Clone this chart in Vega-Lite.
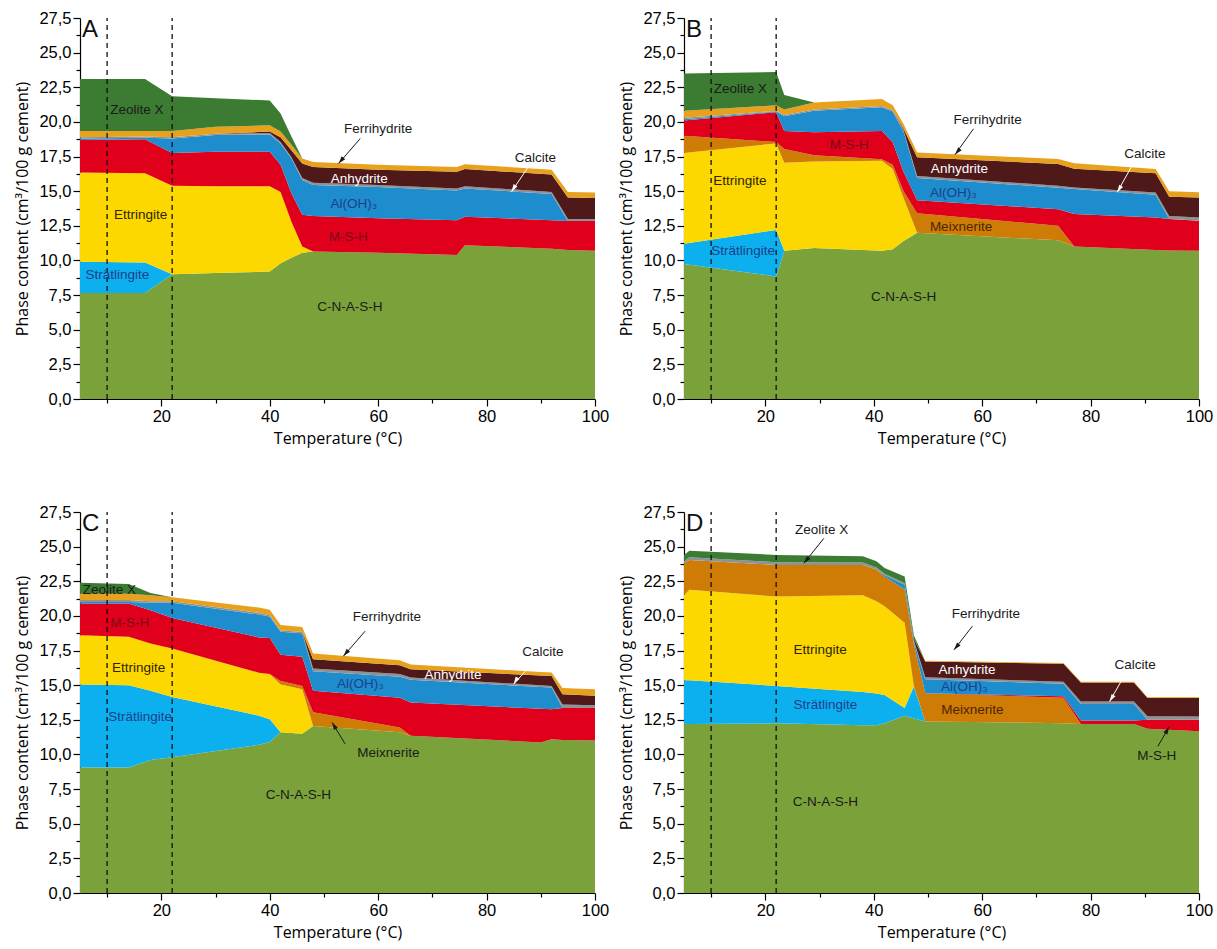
{
"$schema": "https://vega.github.io/schema/vega-lite/v6.json",
"background": "white",
"padding": {"left": 14, "top": 10, "right": 2, "bottom": 2},
"spacing": 57,
"config": {
  "view": {"stroke": null},
  "axis": {"grid": false, "domainColor": "#000", "tickColor": "#000", "labelColor": "#000", "titleColor": "#000", "labelFont": "Liberation Sans", "labelFontSize": 16.5, "titleFont": "Open Sans", "titleFontSize": 16, "titleFontWeight": "normal", "labelFlush": false, "labelOverlap": false, "labelBound": false, "domainWidth": 1.2, "tickWidth": 1.2},
  "axisY": {"titlePadding": 8},
  "axisX": {"titlePadding": 6},
  "text": {"font": "Liberation Sans", "fontSize": 13.5}
},
"datasets": {
  "phaseinfo": [
    {"phase": "CNASH", "rank": 0}, {"phase": "Strat", "rank": 1}, {"phase": "Ettr", "rank": 2}, {"phase": "Meix", "rank": 3}, {"phase": "MSH", "rank": 4},
    {"phase": "AlOH3", "rank": 5}, {"phase": "Calcite", "rank": 6}, {"phase": "Anhydrite", "rank": 7}, {"phase": "Ferri", "rank": 8}, {"phase": "Zeolite", "rank": 9}
  ],
  "phases": [
    {"panel":"A","t":5,"CNASH":7.65,"Strat":2.25,"Ettr":6.45,"Meix":0,"MSH":2.35,"AlOH3":0.1,"Calcite":0.1,"Anhydrite":0,"Ferri":0.45,"Zeolite":3.75},
    {"panel":"A","t":17,"CNASH":7.65,"Strat":2.2,"Ettr":6.45,"Meix":0,"MSH":2.45,"AlOH3":0.1,"Calcite":0.1,"Anhydrite":0,"Ferri":0.4,"Zeolite":3.75},
    {"panel":"A","t":22,"CNASH":9.0,"Strat":0,"Ettr":6.4,"Meix":0,"MSH":2.35,"AlOH3":1.05,"Calcite":0.1,"Anhydrite":0,"Ferri":0.45,"Zeolite":2.5},
    {"panel":"A","t":30,"CNASH":9.1,"Strat":0,"Ettr":6.25,"Meix":0,"MSH":2.5,"AlOH3":1.2,"Calcite":0.1,"Anhydrite":0,"Ferri":0.5,"Zeolite":2.05},
    {"panel":"A","t":40,"CNASH":9.2,"Strat":0,"Ettr":6.15,"Meix":0,"MSH":2.5,"AlOH3":1.25,"Calcite":0.1,"Anhydrite":0.1,"Ferri":0.45,"Zeolite":1.8},
    {"panel":"A","t":42,"CNASH":9.8,"Strat":0,"Ettr":5.15,"Meix":0,"MSH":1.95,"AlOH3":1.55,"Calcite":0.1,"Anhydrite":0.35,"Ferri":0.4,"Zeolite":1.3},
    {"panel":"A","t":44,"CNASH":10.2,"Strat":0,"Ettr":2.6,"Meix":0,"MSH":2.05,"AlOH3":2.5,"Calcite":0.1,"Anhydrite":0.5,"Ferri":0.4,"Zeolite":0.6},
    {"panel":"A","t":46,"CNASH":10.55,"Strat":0,"Ettr":0.45,"Meix":0,"MSH":2.3,"AlOH3":2.5,"Calcite":0.15,"Anhydrite":1.05,"Ferri":0.35,"Zeolite":0},
    {"panel":"A","t":48,"CNASH":10.65,"Strat":0,"Ettr":0,"Meix":0,"MSH":2.55,"AlOH3":2.25,"Calcite":0.15,"Anhydrite":1.15,"Ferri":0.35,"Zeolite":0},
    {"panel":"A","t":60,"CNASH":10.55,"Strat":0,"Ettr":0,"Meix":0,"MSH":2.5,"AlOH3":2.25,"Calcite":0.15,"Anhydrite":1.1,"Ferri":0.35,"Zeolite":0},
    {"panel":"A","t":74.5,"CNASH":10.4,"Strat":0,"Ettr":0,"Meix":0,"MSH":2.5,"AlOH3":2.15,"Calcite":0.15,"Anhydrite":1.2,"Ferri":0.35,"Zeolite":0},
    {"panel":"A","t":76,"CNASH":11.1,"Strat":0,"Ettr":0,"Meix":0,"MSH":2.05,"AlOH3":2.05,"Calcite":0.15,"Anhydrite":1.25,"Ferri":0.35,"Zeolite":0},
    {"panel":"A","t":92,"CNASH":10.85,"Strat":0,"Ettr":0,"Meix":0,"MSH":2.05,"AlOH3":1.9,"Calcite":0.15,"Anhydrite":1.25,"Ferri":0.35,"Zeolite":0},
    {"panel":"A","t":95,"CNASH":10.75,"Strat":0,"Ettr":0,"Meix":0,"MSH":2.1,"AlOH3":0,"Calcite":0.15,"Anhydrite":1.55,"Ferri":0.4,"Zeolite":0},
    {"panel":"A","t":100,"CNASH":10.7,"Strat":0,"Ettr":0,"Meix":0,"MSH":2.15,"AlOH3":0,"Calcite":0.15,"Anhydrite":1.5,"Ferri":0.4,"Zeolite":0},

    {"panel":"B","t":5,"CNASH":9.75,"Strat":1.45,"Ettr":6.55,"Meix":1.25,"MSH":1.1,"AlOH3":0.1,"Calcite":0.1,"Anhydrite":0,"Ferri":0.5,"Zeolite":2.7},
    {"panel":"B","t":22,"CNASH":8.85,"Strat":3.35,"Ettr":6.25,"Meix":0.1,"MSH":2.15,"AlOH3":0.05,"Calcite":0.05,"Anhydrite":0,"Ferri":0.4,"Zeolite":2.4},
    {"panel":"B","t":23.5,"CNASH":10.7,"Strat":0,"Ettr":6.35,"Meix":1.0,"MSH":1.3,"AlOH3":1.05,"Calcite":0.1,"Anhydrite":0,"Ferri":0.4,"Zeolite":1.05},
    {"panel":"B","t":29,"CNASH":10.9,"Strat":0,"Ettr":6.25,"Meix":0.45,"MSH":1.65,"AlOH3":1.55,"Calcite":0.1,"Anhydrite":0,"Ferri":0.5,"Zeolite":0},
    {"panel":"B","t":41.5,"CNASH":10.7,"Strat":0,"Ettr":6.5,"Meix":0.1,"MSH":2.05,"AlOH3":1.7,"Calcite":0.1,"Anhydrite":0,"Ferri":0.5,"Zeolite":0},
    {"panel":"B","t":43.5,"CNASH":10.8,"Strat":0,"Ettr":5.8,"Meix":0.3,"MSH":1.63,"AlOH3":2.22,"Calcite":0.1,"Anhydrite":0,"Ferri":0.35,"Zeolite":0},
    {"panel":"B","t":45.5,"CNASH":11.4,"Strat":0,"Ettr":3.1,"Meix":0.5,"MSH":1.4,"AlOH3":2.9,"Calcite":0.1,"Anhydrite":0.1,"Ferri":0.35,"Zeolite":0},
    {"panel":"B","t":48,"CNASH":12.0,"Strat":0,"Ettr":0,"Meix":1.4,"MSH":0.95,"AlOH3":1.6,"Calcite":0.15,"Anhydrite":1.35,"Ferri":0.35,"Zeolite":0},
    {"panel":"B","t":74,"CNASH":11.45,"Strat":0,"Ettr":0,"Meix":1.05,"MSH":1.2,"AlOH3":1.55,"Calcite":0.15,"Anhydrite":1.57,"Ferri":0.35,"Zeolite":0},
    {"panel":"B","t":77,"CNASH":11.0,"Strat":0,"Ettr":0,"Meix":0,"MSH":2.35,"AlOH3":1.8,"Calcite":0.12,"Anhydrite":1.35,"Ferri":0.4,"Zeolite":0},
    {"panel":"B","t":92,"CNASH":10.75,"Strat":0,"Ettr":0,"Meix":0,"MSH":2.35,"AlOH3":1.65,"Calcite":0.15,"Anhydrite":1.4,"Ferri":0.3,"Zeolite":0},
    {"panel":"B","t":94.5,"CNASH":10.72,"Strat":0,"Ettr":0,"Meix":0,"MSH":2.28,"AlOH3":0,"Calcite":0.2,"Anhydrite":1.4,"Ferri":0.4,"Zeolite":0},
    {"panel":"B","t":100,"CNASH":10.7,"Strat":0,"Ettr":0,"Meix":0,"MSH":2.17,"AlOH3":0,"Calcite":0.23,"Anhydrite":1.45,"Ferri":0.37,"Zeolite":0},

    {"panel":"C","t":5,"CNASH":9.05,"Strat":6.0,"Ettr":3.55,"Meix":0,"MSH":2.3,"AlOH3":0.1,"Calcite":0.15,"Anhydrite":0,"Ferri":0.45,"Zeolite":0.8},
    {"panel":"C","t":14,"CNASH":9.05,"Strat":5.95,"Ettr":3.5,"Meix":0,"MSH":2.4,"AlOH3":0.1,"Calcite":0.15,"Anhydrite":0,"Ferri":0.45,"Zeolite":0.7},
    {"panel":"C","t":18,"CNASH":9.6,"Strat":5.0,"Ettr":3.4,"Meix":0,"MSH":2.4,"AlOH3":0.55,"Calcite":0.1,"Anhydrite":0,"Ferri":0.45,"Zeolite":0.15},
    {"panel":"C","t":22,"CNASH":9.8,"Strat":4.35,"Ettr":3.5,"Meix":0,"MSH":2.2,"AlOH3":1.1,"Calcite":0.1,"Anhydrite":0,"Ferri":0.3,"Zeolite":0},
    {"panel":"C","t":38,"CNASH":10.7,"Strat":2.1,"Ettr":3.1,"Meix":0,"MSH":2.55,"AlOH3":1.65,"Calcite":0.12,"Anhydrite":0,"Ferri":0.38,"Zeolite":0},
    {"panel":"C","t":40,"CNASH":10.9,"Strat":1.65,"Ettr":3.25,"Meix":0,"MSH":2.6,"AlOH3":1.55,"Calcite":0.1,"Anhydrite":0,"Ferri":0.4,"Zeolite":0},
    {"panel":"C","t":42,"CNASH":11.6,"Strat":0,"Ettr":3.45,"Meix":0.25,"MSH":1.9,"AlOH3":1.65,"Calcite":0.1,"Anhydrite":0,"Ferri":0.4,"Zeolite":0},
    {"panel":"C","t":46,"CNASH":11.5,"Strat":0,"Ettr":3.2,"Meix":0.25,"MSH":2.1,"AlOH3":1.7,"Calcite":0.1,"Anhydrite":0,"Ferri":0.35,"Zeolite":0},
    {"panel":"C","t":48,"CNASH":12.05,"Strat":0,"Ettr":0,"Meix":1.0,"MSH":1.55,"AlOH3":1.4,"Calcite":0.2,"Anhydrite":0.68,"Ferri":0.4,"Zeolite":0},
    {"panel":"C","t":64,"CNASH":11.6,"Strat":0,"Ettr":0,"Meix":0.35,"MSH":2.15,"AlOH3":1.5,"Calcite":0.2,"Anhydrite":0.64,"Ferri":0.36,"Zeolite":0},
    {"panel":"C","t":66,"CNASH":11.35,"Strat":0,"Ettr":0,"Meix":0,"MSH":2.4,"AlOH3":1.65,"Calcite":0.15,"Anhydrite":0.6,"Ferri":0.35,"Zeolite":0},
    {"panel":"C","t":90,"CNASH":10.87,"Strat":0,"Ettr":0,"Meix":0,"MSH":2.43,"AlOH3":1.57,"Calcite":0.13,"Anhydrite":0.7,"Ferri":0.25,"Zeolite":0},
    {"panel":"C","t":92,"CNASH":11.1,"Strat":0,"Ettr":0,"Meix":0,"MSH":2.17,"AlOH3":1.56,"Calcite":0.12,"Anhydrite":0.72,"Ferri":0.24,"Zeolite":0},
    {"panel":"C","t":94,"CNASH":11.05,"Strat":0,"Ettr":0,"Meix":0,"MSH":2.3,"AlOH3":0,"Calcite":0.25,"Anhydrite":0.75,"Ferri":0.44,"Zeolite":0},
    {"panel":"C","t":100,"CNASH":11.0,"Strat":0,"Ettr":0,"Meix":0,"MSH":2.35,"AlOH3":0,"Calcite":0.21,"Anhydrite":0.67,"Ferri":0.48,"Zeolite":0},

    {"panel":"D","t":5,"CNASH":12.2,"Strat":3.15,"Ettr":6.15,"Meix":2.3,"MSH":0,"AlOH3":0,"Calcite":0.15,"Anhydrite":0,"Ferri":0,"Zeolite":0.45},
    {"panel":"D","t":6,"CNASH":12.2,"Strat":3.15,"Ettr":6.53,"Meix":2.16,"MSH":0,"AlOH3":0,"Calcite":0.2,"Anhydrite":0,"Ferri":0,"Zeolite":0.46},
    {"panel":"D","t":22,"CNASH":12.25,"Strat":2.7,"Ettr":6.45,"Meix":2.28,"MSH":0,"AlOH3":0,"Calcite":0.2,"Anhydrite":0,"Ferri":0,"Zeolite":0.52},
    {"panel":"D","t":38,"CNASH":12.1,"Strat":2.4,"Ettr":7.0,"Meix":2.18,"MSH":0,"AlOH3":0,"Calcite":0.17,"Anhydrite":0,"Ferri":0,"Zeolite":0.45},
    {"panel":"D","t":40.5,"CNASH":12.1,"Strat":2.3,"Ettr":6.65,"Meix":2.3,"MSH":0,"AlOH3":0,"Calcite":0.15,"Anhydrite":0,"Ferri":0,"Zeolite":0.45},
    {"panel":"D","t":42,"CNASH":12.25,"Strat":2.05,"Ettr":6.4,"Meix":2.15,"MSH":0,"AlOH3":0.1,"Calcite":0.1,"Anhydrite":0,"Ferri":0,"Zeolite":0.4},
    {"panel":"D","t":45.7,"CNASH":12.8,"Strat":0.55,"Ettr":6.15,"Meix":2.4,"MSH":0,"AlOH3":0.35,"Calcite":0.1,"Anhydrite":0,"Ferri":0,"Zeolite":0.5},
    {"panel":"D","t":47.4,"CNASH":12.6,"Strat":2.3,"Ettr":0.05,"Meix":3.05,"MSH":0,"AlOH3":0.15,"Calcite":0.1,"Anhydrite":0.1,"Ferri":0,"Zeolite":0.25},
    {"panel":"D","t":49.5,"CNASH":12.38,"Strat":0,"Ettr":0,"Meix":2.04,"MSH":0,"AlOH3":1.01,"Calcite":0.15,"Anhydrite":1.13,"Ferri":0.05,"Zeolite":0},
    {"panel":"D","t":75,"CNASH":12.26,"Strat":0,"Ettr":0,"Meix":1.84,"MSH":0.1,"AlOH3":0.9,"Calcite":0.15,"Anhydrite":1.3,"Ferri":0.05,"Zeolite":0},
    {"panel":"D","t":78.2,"CNASH":12.2,"Strat":0,"Ettr":0,"Meix":0,"MSH":0.25,"AlOH3":1.2,"Calcite":0.17,"Anhydrite":1.37,"Ferri":0.05,"Zeolite":0},
    {"panel":"D","t":88,"CNASH":12.2,"Strat":0,"Ettr":0,"Meix":0,"MSH":0.25,"AlOH3":1.2,"Calcite":0.17,"Anhydrite":1.37,"Ferri":0.05,"Zeolite":0},
    {"panel":"D","t":90.5,"CNASH":11.85,"Strat":0,"Ettr":0,"Meix":0,"MSH":0.65,"AlOH3":0,"Calcite":0.25,"Anhydrite":1.32,"Ferri":0.05,"Zeolite":0},
    {"panel":"D","t":100,"CNASH":11.67,"Strat":0,"Ettr":0,"Meix":0,"MSH":0.83,"AlOH3":0,"Calcite":0.24,"Anhydrite":1.33,"Ferri":0.05,"Zeolite":0}
  ],
  "labels": [
    {"panel":"A","label":"Zeolite X","phase":"Zeolite","t":15.5,"v":20.84,"callout":false},
    {"panel":"A","label":"Ettringite","phase":"Ettr","t":16.2,"v":13.26,"callout":false},
    {"panel":"A","label":"Strätlingite","phase":"Strat","t":11.9,"v":8.92,"callout":false},
    {"panel":"A","label":"Ferrihydrite","phase":"Ferri","t":60,"v":19.5,"callout":true},
    {"panel":"A","label":"Calcite","phase":"Calcite","t":89,"v":17.4,"callout":true},
    {"panel":"A","label":"Anhydrite","phase":"Anhydrite","t":56.5,"v":15.85,"callout":false},
    {"panel":"A","label":"Al(OH)₃","phase":"AlOH3","t":55.5,"v":14.04,"callout":false},
    {"panel":"A","label":"M-S-H","phase":"MSH","t":54.5,"v":11.7,"callout":false},
    {"panel":"A","label":"C-N-A-S-H","phase":"CNASH","t":54.8,"v":6.65,"callout":false},
    {"panel":"B","label":"Zeolite X","phase":"Zeolite","t":15.4,"v":22.37,"callout":false},
    {"panel":"B","label":"Ettringite","phase":"Ettr","t":15.3,"v":15.7,"callout":false},
    {"panel":"B","label":"Strätlingite","phase":"Strat","t":15.9,"v":10.7,"callout":false},
    {"panel":"B","label":"M-S-H","phase":"MSH","t":35.5,"v":18.3,"callout":false},
    {"panel":"B","label":"C-N-A-S-H","phase":"CNASH","t":45.5,"v":7.34,"callout":false},
    {"panel":"B","label":"Ferrihydrite","phase":"Ferri","t":61,"v":20.14,"callout":true},
    {"panel":"B","label":"Calcite","phase":"Calcite","t":90,"v":17.68,"callout":true},
    {"panel":"B","label":"Anhydrite","phase":"Anhydrite","t":55.8,"v":16.6,"callout":false},
    {"panel":"B","label":"Al(OH)₃","phase":"AlOH3","t":54.7,"v":14.9,"callout":false},
    {"panel":"B","label":"Meixnerite","phase":"Meix","t":56.1,"v":12.44,"callout":false},
    {"panel":"C","label":"Zeolite X","phase":"Zeolite","t":10.4,"v":21.9,"callout":false},
    {"panel":"C","label":"M-S-H","phase":"MSH","t":14.2,"v":19.5,"callout":false},
    {"panel":"C","label":"Ettringite","phase":"Ettr","t":15.8,"v":16.27,"callout":false},
    {"panel":"C","label":"Strätlingite","phase":"Strat","t":16.1,"v":12.67,"callout":false},
    {"panel":"C","label":"C-N-A-S-H","phase":"CNASH","t":45.3,"v":7.1,"callout":false},
    {"panel":"C","label":"Ferrihydrite","phase":"Ferri","t":61.6,"v":19.92,"callout":true},
    {"panel":"C","label":"Calcite","phase":"Calcite","t":90.4,"v":17.4,"callout":true},
    {"panel":"C","label":"Anhydrite","phase":"Anhydrite","t":73.8,"v":15.75,"callout":false},
    {"panel":"C","label":"Al(OH)₃","phase":"AlOH3","t":56.7,"v":15.07,"callout":false},
    {"panel":"C","label":"Meixnerite","phase":"Meix","t":61.9,"v":10.08,"callout":true},
    {"panel":"D","label":"Zeolite X","phase":"Zeolite","t":30.4,"v":26.2,"callout":true},
    {"panel":"D","label":"Ettringite","phase":"Ettr","t":30.1,"v":17.55,"callout":false},
    {"panel":"D","label":"Strätlingite","phase":"Strat","t":31.1,"v":13.54,"callout":false},
    {"panel":"D","label":"C-N-A-S-H","phase":"CNASH","t":31.1,"v":6.54,"callout":false},
    {"panel":"D","label":"Ferrihydrite","phase":"Ferri","t":60.7,"v":20.12,"callout":true},
    {"panel":"D","label":"Anhydrite","phase":"Anhydrite","t":57.2,"v":16.1,"callout":false},
    {"panel":"D","label":"Al(OH)₃","phase":"AlOH3","t":56.7,"v":14.9,"callout":false},
    {"panel":"D","label":"Meixnerite","phase":"Meix","t":58.2,"v":13.22,"callout":false},
    {"panel":"D","label":"Calcite","phase":"Calcite","t":88.2,"v":16.46,"callout":true},
    {"panel":"D","label":"M-S-H","phase":"MSH","t":92.2,"v":9.86,"callout":true}
  ],
  "arrows": [
    {"panel":"A","phase":"Ferri","t":56.7,"v":18.8,"t2":52.7,"v2":17.0},
    {"panel":"A","phase":"Calcite","t":87.7,"v":16.76,"t2":84.6,"v2":14.96},
    {"panel":"B","phase":"Ferri","t":58.4,"v":19.5,"t2":55.0,"v2":17.64},
    {"panel":"B","phase":"Calcite","t":88.0,"v":17.08,"t2":84.9,"v2":14.92},
    {"panel":"C","phase":"Ferri","t":57.6,"v":18.9,"t2":53.6,"v2":17.1},
    {"panel":"C","phase":"Calcite","t":87.2,"v":16.03,"t2":85.0,"v2":15.08},
    {"panel":"C","phase":"Meix","t":53.9,"v":10.76,"t2":51.5,"v2":12.31},
    {"panel":"D","phase":"Zeolite","t":30.8,"v":25.6,"t2":27.1,"v2":23.8},
    {"panel":"D","phase":"Ferri","t":58.2,"v":19.26,"t2":54.8,"v2":17.55},
    {"panel":"D","phase":"Calcite","t":86.5,"v":15.87,"t2":83.5,"v2":13.82},
    {"panel":"D","phase":"MSH","t":92.4,"v":10.58,"t2":94.5,"v2":12.0}
  ],
  "panels": [
    {"panel":"A","t":5.35,"v":26.6},
    {"panel":"B","t":5.35,"v":26.6},
    {"panel":"C","t":5.35,"v":26.6},
    {"panel":"D","t":5.35,"v":26.6}
  ],
  "guides": [
    {"t":10,"v":0,"v2":27.5},
    {"t":22,"v":0,"v2":27.5}
  ]
},
"vconcat": [
 {"spacing": 9, "hconcat": [
  {"width": 515, "height": 381, "layer": [
    {"data": {"name": "phases"}, "transform": [{"filter": "datum.panel === 'A'"}, {"fold": ["CNASH","Strat","Ettr","Meix","MSH","AlOH3","Calcite","Anhydrite","Ferri","Zeolite"], "as": ["phase","v"]}, {"lookup": "phase", "from": {"data": {"name": "phaseinfo"}, "key": "phase", "fields": ["rank"]}}],
     "mark": {"type": "area", "interpolate": "linear"},
     "encoding": {
       "x": {"field": "t", "type": "quantitative", "title": "Temperature (°C)", "scale": {"domain": [5,100], "nice": false, "zero": false}, "axis": {"tickCount": 40, "labelOverlap": false, "values": [10,20,30,40,50,60,70,80,90,100], "labelExpr": "abs(datum.value / 20 - round(datum.value / 20)) < 0.001 ? datum.label : ''", "tickSize": {"condition": {"test": "abs(datum.value / 20 - round(datum.value / 20)) < 0.001", "value": 7}, "value": 4}}},
       "y": {"field": "v", "type": "quantitative", "stack": "zero", "title": "Phase content (cm³/100 g cement)", "scale": {"domain": [0,27.5], "nice": false}, "axis": {"tickCount": 40, "labelOverlap": false, "values": [0,1.25,2.5,3.75,5,6.25,7.5,8.75,10,11.25,12.5,13.75,15,16.25,17.5,18.75,20,21.25,22.5,23.75,25,26.25,27.5], "labelExpr": "abs(datum.value / 2.5 - round(datum.value / 2.5)) < 0.001 ? replace(format(datum.value, '.1f'), '.', ',') : ''", "tickSize": {"condition": {"test": "abs(datum.value / 2.5 - round(datum.value / 2.5)) < 0.001", "value": 7}, "value": 4}}},
       "color": {"field": "phase", "type": "nominal", "legend": null, "scale": {"domain": ["CNASH","Strat","Ettr","Meix","MSH","AlOH3","Calcite","Anhydrite","Ferri","Zeolite"], "range": ["#7ba23a","#0cb0ee","#fdd700","#cf7c06","#e0001c","#1e8dcd","#8b9399","#4f1819","#e7a11c","#3c7b32"]}},
       "order": {"field": "rank", "type": "quantitative", "sort": "ascending"}
     }},
    {"data": {"name": "guides"}, "mark": {"type": "rule", "color": "#111", "strokeWidth": 1.3, "strokeDash": [5,4]},
     "encoding": {"x": {"field": "t", "type": "quantitative", "title": "Temperature (°C)"}, "y": {"field": "v", "type": "quantitative", "title": "Phase content (cm³/100 g cement)"}, "y2": {"field": "v2"}}},
    {"data": {"name": "arrows"}, "transform": [{"filter": "datum.panel === 'A'"}], "mark": {"type": "rule", "strokeWidth": 1},
     "encoding": {"x": {"field": "t", "type": "quantitative", "title": "Temperature (°C)"}, "y": {"field": "v", "type": "quantitative", "title": "Phase content (cm³/100 g cement)"}, "x2": {"field": "t2"}, "y2": {"field": "v2"},
       "color": {"condition": {"test": "datum.phase === 'Calcite'", "value": "#ffffff"}, "value": "#1a1a1a"}}},
    {"data": {"name": "arrows"}, "transform": [{"filter": "datum.panel === 'A'"}], "mark": {"type": "point", "filled": true, "shape": "M0,0L-0.3,1L0.3,1Z", "size": 230, "opacity": 1, "strokeWidth": 0},
     "encoding": {"x": {"field": "t2", "type": "quantitative", "title": "Temperature (°C)"}, "y": {"field": "v2", "type": "quantitative", "title": "Phase content (cm³/100 g cement)"},
       "color": {"condition": {"test": "datum.phase === 'Calcite'", "value": "#ffffff"}, "value": "#1a1a1a"},
       "angle": {"condition": [{"test": "datum.phase === 'Calcite'", "value": 212}, {"test": "datum.phase === 'Meix'", "value": 329}, {"test": "datum.phase === 'MSH'", "value": 30}], "value": 220}}},
    {"data": {"name": "labels"}, "transform": [{"filter": "datum.panel === 'A'"}], "mark": {"type": "text", "align": "center", "baseline": "middle"},
     "encoding": {"x": {"field": "t", "type": "quantitative", "title": "Temperature (°C)"}, "y": {"field": "v", "type": "quantitative", "title": "Phase content (cm³/100 g cement)"}, "text": {"field": "label"},
       "color": {"condition": [{"test": "datum.callout", "value": "#1a1a1a"}, {"test": "datum.phase === 'Anhydrite'", "value": "#ffffff"}, {"test": "datum.phase === 'Strat' || datum.phase === 'AlOH3'", "value": "#1c3f8c"}, {"test": "datum.phase === 'MSH'", "value": "#7b0a14"}, {"test": "datum.phase === 'Meix'", "value": "#4d2600"}, {"test": "datum.phase === 'Ettr'", "value": "#2e2500"}], "value": "#1a1a1a"}}},
    {"data": {"name": "panels"}, "transform": [{"filter": "datum.panel === 'A'"}], "mark": {"type": "text", "align": "left", "baseline": "middle", "fontSize": 24, "color": "#111"},
     "encoding": {"x": {"field": "t", "type": "quantitative", "title": "Temperature (°C)"}, "y": {"field": "v", "type": "quantitative", "title": "Phase content (cm³/100 g cement)"}, "text": {"field": "panel"}}}
  ]},
  {"width": 515, "height": 381, "layer": [
    {"data": {"name": "phases"}, "transform": [{"filter": "datum.panel === 'B'"}, {"fold": ["CNASH","Strat","Ettr","Meix","MSH","AlOH3","Calcite","Anhydrite","Ferri","Zeolite"], "as": ["phase","v"]}, {"lookup": "phase", "from": {"data": {"name": "phaseinfo"}, "key": "phase", "fields": ["rank"]}}],
     "mark": {"type": "area", "interpolate": "linear"},
     "encoding": {
       "x": {"field": "t", "type": "quantitative", "title": "Temperature (°C)", "scale": {"domain": [5,100], "nice": false, "zero": false}, "axis": {"tickCount": 40, "labelOverlap": false, "values": [10,20,30,40,50,60,70,80,90,100], "labelExpr": "abs(datum.value / 20 - round(datum.value / 20)) < 0.001 ? datum.label : ''", "tickSize": {"condition": {"test": "abs(datum.value / 20 - round(datum.value / 20)) < 0.001", "value": 7}, "value": 4}}},
       "y": {"field": "v", "type": "quantitative", "stack": "zero", "title": "Phase content (cm³/100 g cement)", "scale": {"domain": [0,27.5], "nice": false}, "axis": {"tickCount": 40, "labelOverlap": false, "values": [0,1.25,2.5,3.75,5,6.25,7.5,8.75,10,11.25,12.5,13.75,15,16.25,17.5,18.75,20,21.25,22.5,23.75,25,26.25,27.5], "labelExpr": "abs(datum.value / 2.5 - round(datum.value / 2.5)) < 0.001 ? replace(format(datum.value, '.1f'), '.', ',') : ''", "tickSize": {"condition": {"test": "abs(datum.value / 2.5 - round(datum.value / 2.5)) < 0.001", "value": 7}, "value": 4}}},
       "color": {"field": "phase", "type": "nominal", "legend": null, "scale": {"domain": ["CNASH","Strat","Ettr","Meix","MSH","AlOH3","Calcite","Anhydrite","Ferri","Zeolite"], "range": ["#7ba23a","#0cb0ee","#fdd700","#cf7c06","#e0001c","#1e8dcd","#8b9399","#4f1819","#e7a11c","#3c7b32"]}},
       "order": {"field": "rank", "type": "quantitative", "sort": "ascending"}
     }},
    {"data": {"name": "guides"}, "mark": {"type": "rule", "color": "#111", "strokeWidth": 1.3, "strokeDash": [5,4]},
     "encoding": {"x": {"field": "t", "type": "quantitative", "title": "Temperature (°C)"}, "y": {"field": "v", "type": "quantitative", "title": "Phase content (cm³/100 g cement)"}, "y2": {"field": "v2"}}},
    {"data": {"name": "arrows"}, "transform": [{"filter": "datum.panel === 'B'"}], "mark": {"type": "rule", "strokeWidth": 1},
     "encoding": {"x": {"field": "t", "type": "quantitative", "title": "Temperature (°C)"}, "y": {"field": "v", "type": "quantitative", "title": "Phase content (cm³/100 g cement)"}, "x2": {"field": "t2"}, "y2": {"field": "v2"},
       "color": {"condition": {"test": "datum.phase === 'Calcite'", "value": "#ffffff"}, "value": "#1a1a1a"}}},
    {"data": {"name": "arrows"}, "transform": [{"filter": "datum.panel === 'B'"}], "mark": {"type": "point", "filled": true, "shape": "M0,0L-0.3,1L0.3,1Z", "size": 230, "opacity": 1, "strokeWidth": 0},
     "encoding": {"x": {"field": "t2", "type": "quantitative", "title": "Temperature (°C)"}, "y": {"field": "v2", "type": "quantitative", "title": "Phase content (cm³/100 g cement)"},
       "color": {"condition": {"test": "datum.phase === 'Calcite'", "value": "#ffffff"}, "value": "#1a1a1a"},
       "angle": {"condition": [{"test": "datum.phase === 'Calcite'", "value": 212}, {"test": "datum.phase === 'Meix'", "value": 329}, {"test": "datum.phase === 'MSH'", "value": 30}], "value": 220}}},
    {"data": {"name": "labels"}, "transform": [{"filter": "datum.panel === 'B'"}], "mark": {"type": "text", "align": "center", "baseline": "middle"},
     "encoding": {"x": {"field": "t", "type": "quantitative", "title": "Temperature (°C)"}, "y": {"field": "v", "type": "quantitative", "title": "Phase content (cm³/100 g cement)"}, "text": {"field": "label"},
       "color": {"condition": [{"test": "datum.callout", "value": "#1a1a1a"}, {"test": "datum.phase === 'Anhydrite'", "value": "#ffffff"}, {"test": "datum.phase === 'Strat' || datum.phase === 'AlOH3'", "value": "#1c3f8c"}, {"test": "datum.phase === 'MSH'", "value": "#7b0a14"}, {"test": "datum.phase === 'Meix'", "value": "#4d2600"}, {"test": "datum.phase === 'Ettr'", "value": "#2e2500"}], "value": "#1a1a1a"}}},
    {"data": {"name": "panels"}, "transform": [{"filter": "datum.panel === 'B'"}], "mark": {"type": "text", "align": "left", "baseline": "middle", "fontSize": 24, "color": "#111"},
     "encoding": {"x": {"field": "t", "type": "quantitative", "title": "Temperature (°C)"}, "y": {"field": "v", "type": "quantitative", "title": "Phase content (cm³/100 g cement)"}, "text": {"field": "panel"}}}
  ]}
 ]},
 {"spacing": 9, "hconcat": [
  {"width": 515, "height": 381, "layer": [
    {"data": {"name": "phases"}, "transform": [{"filter": "datum.panel === 'C'"}, {"fold": ["CNASH","Strat","Ettr","Meix","MSH","AlOH3","Calcite","Anhydrite","Ferri","Zeolite"], "as": ["phase","v"]}, {"lookup": "phase", "from": {"data": {"name": "phaseinfo"}, "key": "phase", "fields": ["rank"]}}],
     "mark": {"type": "area", "interpolate": "linear"},
     "encoding": {
       "x": {"field": "t", "type": "quantitative", "title": "Temperature (°C)", "scale": {"domain": [5,100], "nice": false, "zero": false}, "axis": {"tickCount": 40, "labelOverlap": false, "values": [10,20,30,40,50,60,70,80,90,100], "labelExpr": "abs(datum.value / 20 - round(datum.value / 20)) < 0.001 ? datum.label : ''", "tickSize": {"condition": {"test": "abs(datum.value / 20 - round(datum.value / 20)) < 0.001", "value": 7}, "value": 4}}},
       "y": {"field": "v", "type": "quantitative", "stack": "zero", "title": "Phase content (cm³/100 g cement)", "scale": {"domain": [0,27.5], "nice": false}, "axis": {"tickCount": 40, "labelOverlap": false, "values": [0,1.25,2.5,3.75,5,6.25,7.5,8.75,10,11.25,12.5,13.75,15,16.25,17.5,18.75,20,21.25,22.5,23.75,25,26.25,27.5], "labelExpr": "abs(datum.value / 2.5 - round(datum.value / 2.5)) < 0.001 ? replace(format(datum.value, '.1f'), '.', ',') : ''", "tickSize": {"condition": {"test": "abs(datum.value / 2.5 - round(datum.value / 2.5)) < 0.001", "value": 7}, "value": 4}}},
       "color": {"field": "phase", "type": "nominal", "legend": null, "scale": {"domain": ["CNASH","Strat","Ettr","Meix","MSH","AlOH3","Calcite","Anhydrite","Ferri","Zeolite"], "range": ["#7ba23a","#0cb0ee","#fdd700","#cf7c06","#e0001c","#1e8dcd","#8b9399","#4f1819","#e7a11c","#3c7b32"]}},
       "order": {"field": "rank", "type": "quantitative", "sort": "ascending"}
     }},
    {"data": {"name": "guides"}, "mark": {"type": "rule", "color": "#111", "strokeWidth": 1.3, "strokeDash": [5,4]},
     "encoding": {"x": {"field": "t", "type": "quantitative", "title": "Temperature (°C)"}, "y": {"field": "v", "type": "quantitative", "title": "Phase content (cm³/100 g cement)"}, "y2": {"field": "v2"}}},
    {"data": {"name": "arrows"}, "transform": [{"filter": "datum.panel === 'C'"}], "mark": {"type": "rule", "strokeWidth": 1},
     "encoding": {"x": {"field": "t", "type": "quantitative", "title": "Temperature (°C)"}, "y": {"field": "v", "type": "quantitative", "title": "Phase content (cm³/100 g cement)"}, "x2": {"field": "t2"}, "y2": {"field": "v2"},
       "color": {"condition": {"test": "datum.phase === 'Calcite'", "value": "#ffffff"}, "value": "#1a1a1a"}}},
    {"data": {"name": "arrows"}, "transform": [{"filter": "datum.panel === 'C'"}], "mark": {"type": "point", "filled": true, "shape": "M0,0L-0.3,1L0.3,1Z", "size": 230, "opacity": 1, "strokeWidth": 0},
     "encoding": {"x": {"field": "t2", "type": "quantitative", "title": "Temperature (°C)"}, "y": {"field": "v2", "type": "quantitative", "title": "Phase content (cm³/100 g cement)"},
       "color": {"condition": {"test": "datum.phase === 'Calcite'", "value": "#ffffff"}, "value": "#1a1a1a"},
       "angle": {"condition": [{"test": "datum.phase === 'Calcite'", "value": 212}, {"test": "datum.phase === 'Meix'", "value": 329}, {"test": "datum.phase === 'MSH'", "value": 30}], "value": 220}}},
    {"data": {"name": "labels"}, "transform": [{"filter": "datum.panel === 'C'"}], "mark": {"type": "text", "align": "center", "baseline": "middle"},
     "encoding": {"x": {"field": "t", "type": "quantitative", "title": "Temperature (°C)"}, "y": {"field": "v", "type": "quantitative", "title": "Phase content (cm³/100 g cement)"}, "text": {"field": "label"},
       "color": {"condition": [{"test": "datum.callout", "value": "#1a1a1a"}, {"test": "datum.phase === 'Anhydrite'", "value": "#ffffff"}, {"test": "datum.phase === 'Strat' || datum.phase === 'AlOH3'", "value": "#1c3f8c"}, {"test": "datum.phase === 'MSH'", "value": "#7b0a14"}, {"test": "datum.phase === 'Meix'", "value": "#4d2600"}, {"test": "datum.phase === 'Ettr'", "value": "#2e2500"}], "value": "#1a1a1a"}}},
    {"data": {"name": "panels"}, "transform": [{"filter": "datum.panel === 'C'"}], "mark": {"type": "text", "align": "left", "baseline": "middle", "fontSize": 24, "color": "#111"},
     "encoding": {"x": {"field": "t", "type": "quantitative", "title": "Temperature (°C)"}, "y": {"field": "v", "type": "quantitative", "title": "Phase content (cm³/100 g cement)"}, "text": {"field": "panel"}}}
  ]},
  {"width": 515, "height": 381, "layer": [
    {"data": {"name": "phases"}, "transform": [{"filter": "datum.panel === 'D'"}, {"fold": ["CNASH","Strat","Ettr","Meix","MSH","AlOH3","Calcite","Anhydrite","Ferri","Zeolite"], "as": ["phase","v"]}, {"lookup": "phase", "from": {"data": {"name": "phaseinfo"}, "key": "phase", "fields": ["rank"]}}],
     "mark": {"type": "area", "interpolate": "linear"},
     "encoding": {
       "x": {"field": "t", "type": "quantitative", "title": "Temperature (°C)", "scale": {"domain": [5,100], "nice": false, "zero": false}, "axis": {"tickCount": 40, "labelOverlap": false, "values": [10,20,30,40,50,60,70,80,90,100], "labelExpr": "abs(datum.value / 20 - round(datum.value / 20)) < 0.001 ? datum.label : ''", "tickSize": {"condition": {"test": "abs(datum.value / 20 - round(datum.value / 20)) < 0.001", "value": 7}, "value": 4}}},
       "y": {"field": "v", "type": "quantitative", "stack": "zero", "title": "Phase content (cm³/100 g cement)", "scale": {"domain": [0,27.5], "nice": false}, "axis": {"tickCount": 40, "labelOverlap": false, "values": [0,1.25,2.5,3.75,5,6.25,7.5,8.75,10,11.25,12.5,13.75,15,16.25,17.5,18.75,20,21.25,22.5,23.75,25,26.25,27.5], "labelExpr": "abs(datum.value / 2.5 - round(datum.value / 2.5)) < 0.001 ? replace(format(datum.value, '.1f'), '.', ',') : ''", "tickSize": {"condition": {"test": "abs(datum.value / 2.5 - round(datum.value / 2.5)) < 0.001", "value": 7}, "value": 4}}},
       "color": {"field": "phase", "type": "nominal", "legend": null, "scale": {"domain": ["CNASH","Strat","Ettr","Meix","MSH","AlOH3","Calcite","Anhydrite","Ferri","Zeolite"], "range": ["#7ba23a","#0cb0ee","#fdd700","#cf7c06","#e0001c","#1e8dcd","#8b9399","#4f1819","#e7a11c","#3c7b32"]}},
       "order": {"field": "rank", "type": "quantitative", "sort": "ascending"}
     }},
    {"data": {"name": "guides"}, "mark": {"type": "rule", "color": "#111", "strokeWidth": 1.3, "strokeDash": [5,4]},
     "encoding": {"x": {"field": "t", "type": "quantitative", "title": "Temperature (°C)"}, "y": {"field": "v", "type": "quantitative", "title": "Phase content (cm³/100 g cement)"}, "y2": {"field": "v2"}}},
    {"data": {"name": "arrows"}, "transform": [{"filter": "datum.panel === 'D'"}], "mark": {"type": "rule", "strokeWidth": 1},
     "encoding": {"x": {"field": "t", "type": "quantitative", "title": "Temperature (°C)"}, "y": {"field": "v", "type": "quantitative", "title": "Phase content (cm³/100 g cement)"}, "x2": {"field": "t2"}, "y2": {"field": "v2"},
       "color": {"condition": {"test": "datum.phase === 'Calcite'", "value": "#ffffff"}, "value": "#1a1a1a"}}},
    {"data": {"name": "arrows"}, "transform": [{"filter": "datum.panel === 'D'"}], "mark": {"type": "point", "filled": true, "shape": "M0,0L-0.3,1L0.3,1Z", "size": 230, "opacity": 1, "strokeWidth": 0},
     "encoding": {"x": {"field": "t2", "type": "quantitative", "title": "Temperature (°C)"}, "y": {"field": "v2", "type": "quantitative", "title": "Phase content (cm³/100 g cement)"},
       "color": {"condition": {"test": "datum.phase === 'Calcite'", "value": "#ffffff"}, "value": "#1a1a1a"},
       "angle": {"condition": [{"test": "datum.phase === 'Calcite'", "value": 212}, {"test": "datum.phase === 'Meix'", "value": 329}, {"test": "datum.phase === 'MSH'", "value": 30}], "value": 220}}},
    {"data": {"name": "labels"}, "transform": [{"filter": "datum.panel === 'D'"}], "mark": {"type": "text", "align": "center", "baseline": "middle"},
     "encoding": {"x": {"field": "t", "type": "quantitative", "title": "Temperature (°C)"}, "y": {"field": "v", "type": "quantitative", "title": "Phase content (cm³/100 g cement)"}, "text": {"field": "label"},
       "color": {"condition": [{"test": "datum.callout", "value": "#1a1a1a"}, {"test": "datum.phase === 'Anhydrite'", "value": "#ffffff"}, {"test": "datum.phase === 'Strat' || datum.phase === 'AlOH3'", "value": "#1c3f8c"}, {"test": "datum.phase === 'MSH'", "value": "#7b0a14"}, {"test": "datum.phase === 'Meix'", "value": "#4d2600"}, {"test": "datum.phase === 'Ettr'", "value": "#2e2500"}], "value": "#1a1a1a"}}},
    {"data": {"name": "panels"}, "transform": [{"filter": "datum.panel === 'D'"}], "mark": {"type": "text", "align": "left", "baseline": "middle", "fontSize": 24, "color": "#111"},
     "encoding": {"x": {"field": "t", "type": "quantitative", "title": "Temperature (°C)"}, "y": {"field": "v", "type": "quantitative", "title": "Phase content (cm³/100 g cement)"}, "text": {"field": "panel"}}}
  ]}
 ]}
]
}
